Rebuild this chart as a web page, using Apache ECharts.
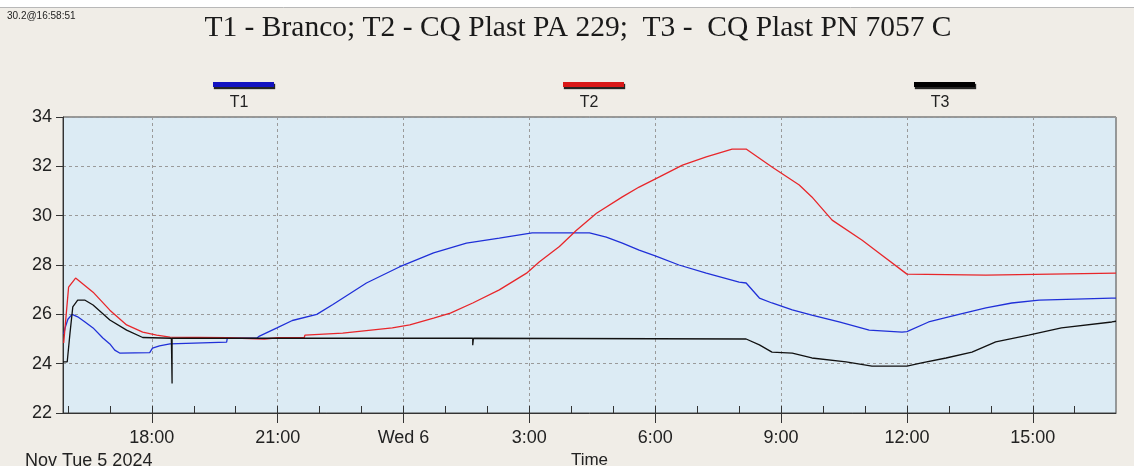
<!DOCTYPE html>
<html><head><meta charset="utf-8">
<script src="https://cdn.jsdelivr.net/npm/echarts@6/dist/echarts.min.js"></script>
<style>html,body{margin:0;padding:0;background:#f0ede7}#c{width:1134px;height:466px}</style>
</head><body><div id="c"></div>
<script>
// ---- data (times are Nov 5 / Nov 6 2024, temperature in °C) ----
const t1Time = ["11-05 15:54","11-05 15:56","11-05 16:00","11-05 16:06","11-05 16:14","11-05 16:24","11-05 16:36","11-05 16:50","11-05 17:00","11-05 17:07","11-05 17:14","11-05 17:57","11-05 18:01","11-05 18:11","11-05 18:26","11-05 19:47","11-05 19:48","11-05 20:30","11-05 20:34","11-05 20:59","11-05 21:21","11-05 21:56","11-05 22:19","11-05 23:07","11-05 23:54","11-06 00:43","11-06 01:30","11-06 02:17","11-06 03:04","11-06 04:26","11-06 04:50","11-06 05:13","11-06 05:37","11-06 06:01","11-06 06:34","11-06 07:13","11-06 08:00","11-06 08:10","11-06 08:29","11-06 08:47","11-06 09:16","11-06 09:44","11-06 10:23","11-06 11:06","11-06 11:53","11-06 12:00","11-06 12:31","11-06 13:10","11-06 13:53","11-06 14:30","11-06 15:09","11-06 16:53","11-06 16:59"];
const t1Temp = [25.2,25.45,25.8,26.0,25.9,25.7,25.45,25.04,24.8,24.55,24.43,24.45,24.63,24.72,24.8,24.87,25.03,25.03,25.12,25.45,25.75,26.0,26.4,27.27,27.92,28.49,28.89,29.09,29.3,29.3,29.13,28.89,28.6,28.36,28.0,27.67,27.31,27.27,26.66,26.46,26.18,25.97,25.69,25.36,25.28,25.3,25.69,25.97,26.26,26.46,26.58,26.66,26.66];

const t2Time = ["11-05 15:54","11-05 16:01","11-05 16:11","11-05 16:36","11-05 17:00","11-05 17:24","11-05 17:47","11-05 18:07","11-05 18:26","11-05 19:47","11-05 19:48","11-05 20:41","11-05 21:00","11-05 21:38","11-05 21:39","11-05 22:33","11-05 23:44","11-06 00:09","11-06 00:43","11-06 01:07","11-06 01:39","11-06 02:17","11-06 02:56","11-06 03:14","11-06 03:43","11-06 04:07","11-06 04:36","11-06 05:13","11-06 05:37","11-06 06:06","11-06 06:39","11-06 07:13","11-06 07:50","11-06 08:10","11-06 08:47","11-06 09:26","11-06 09:44","11-06 10:13","11-06 10:56","11-06 11:20","11-06 12:00","11-06 12:01","11-06 13:53","11-06 13:54","11-06 16:59"];
const t2Temp = [24.84,27.1,27.47,26.9,26.17,25.57,25.28,25.16,25.08,25.05,25.0,25.0,25.05,25.05,25.16,25.24,25.45,25.57,25.85,26.05,26.46,26.99,27.67,28.12,28.75,29.4,30.1,30.76,31.16,31.57,32.05,32.38,32.7,32.7,31.97,31.24,30.76,29.82,29.0,28.49,27.63,27.59,27.59,27.67,27.67];

const t3Time = ["11-05 15:53","11-05 15:59","11-05 16:03","11-05 16:07","11-05 16:14","11-05 16:24","11-05 16:36","11-05 17:00","11-05 17:24","11-05 17:47","11-05 18:28","11-05 18:29","11-05 18:29","11-06 01:39","11-06 01:39","11-06 01:40","11-06 08:10","11-06 08:29","11-06 08:47","11-06 09:16","11-06 09:44","11-06 10:33","11-06 11:10","11-06 12:00","11-06 12:21","11-06 12:56","11-06 13:33","11-06 14:07","11-06 14:54","11-06 15:41","11-06 16:53","11-06 16:59"];
const t3Temp = [24.07,24.07,25.24,26.3,26.58,26.58,26.38,25.77,25.36,25.06,25.03,23.2,25.03,25.03,24.75,25.03,25.0,24.76,24.47,24.43,24.23,24.07,23.9,23.9,24.03,24.23,24.47,24.88,25.16,25.45,25.69,25.72];

const seriesNames = ["T1","T2","T3"];
const xMajorHours = [18,21,24,27,30,33,36,39];
const xMinorHours = [16,17,18,19,20,21,22,23,24,25,26,27,28,29,30,31,32,33,34,35,36,37,38,39,40];
const xStart = "11-05 15:53";
const xEnd = "11-06 16:59";

function toHours(s){
  const m = s.match(/(\d+)-(\d+) (\d+):(\d+)/);
  return (parseInt(m[2],10)-5)*24 + parseInt(m[3],10) + parseInt(m[4],10)/60;
}
function pairs(times, vals){ return times.map((t,i)=>[toHours(t), vals[i]]); }
function hourLabel(v){ const h = Math.round(v); return h === 24 ? 'Wed 6' : (h % 24) + ':00'; }

const chart = echarts.init(document.getElementById('c'));
const xMin = toHours(xStart), xMax = toHours(xEnd);
const lineColors = ['#2030d8','#e8262a','#111111'];
const legendColors = ['#1212c0','#d81818','#000000'];
const legendLeft = [208, 558, 909];
const font = 'Liberation Sans, Arial, sans-serif';

chart.setOption({
  backgroundColor: '#f0ede7',
  animation: false,
  title: {
    text: 'T1 - Branco; T2 - CQ Plast PA 229;  T3 -  CQ Plast PN 7057 C',
    left: 573, top: 8, textAlign: 'center',
    textStyle: { fontFamily: 'Liberation Serif, Times New Roman, serif', fontWeight: 'normal', fontSize: 29.5, color: '#1a1a1a' }
  },
  legend: seriesNames.map((n,i)=>({
    data: [n], left: legendLeft[i], top: 77, icon: 'rect', itemWidth: 61, itemHeight: 5,
    selectedMode: false, formatter: () => '',
    itemStyle: { color: legendColors[i], shadowColor: 'rgba(0,0,0,0.85)', shadowOffsetX: 1, shadowOffsetY: 2, shadowBlur: 1 }
  })),
  graphic: [
    { type: 'rect', shape: { x: 0, y: 0, width: 1134, height: 7 }, style: { fill: '#ffffff' }, silent: true },
    { type: 'line', shape: { x1: 0, y1: 7.5, x2: 1134, y2: 7.5 }, style: { stroke: '#b8b8b8', lineWidth: 1 }, silent: true },
    { type: 'text', left: 7, top: 11, style: { text: '30.2@16:58:51', font: '10px Liberation Sans Narrow, Arial Narrow, Liberation Sans, sans-serif', fill: '#222' } },
    ...seriesNames.map((n,i)=>({ type: 'text', x: legendLeft[i] + 31, y: 103, style: { text: n, fill: '#222', font: '16px ' + font, align: 'center', verticalAlign: 'middle' } })),
    { type: 'text', left: 25, top: 452, style: { text: 'Nov Tue 5 2024', fill: '#222', font: '18px ' + font } }
  ],
  grid: { left: 63, right: 18, top: 117, bottom: 53, outerBoundsMode: 'none', containLabel: false, show: true, backgroundColor: '#dcebf4', borderColor: '#444', borderWidth: 1 },
  xAxis: [
    {
      type: 'value', min: xMin, max: xMax, position: 'bottom',
      name: 'Time', nameLocation: 'middle', nameGap: 37,
      nameTextStyle: { fontFamily: font, fontSize: 17, color: '#222' },
      axisLine: { show: true, lineStyle: { color: '#333', width: 1 } },
      axisTick: { show: true, inside: false, length: 10, customValues: xMajorHours, lineStyle: { color: '#333' } },
      axisLabel: { show: true, customValues: xMajorHours, formatter: hourLabel, margin: 16, fontFamily: font, fontSize: 18, color: '#222' },
      splitLine: { show: true, customValues: xMajorHours, lineStyle: { color: '#9a9a9a', type: [3,3], width: 1 } }
    },
    {
      type: 'value', min: xMin, max: xMax, position: 'bottom',
      axisLine: { show: false },
      axisTick: { show: true, inside: true, length: 7, customValues: xMinorHours, lineStyle: { color: '#333' } },
      axisLabel: { show: false },
      splitLine: { show: false }
    }
  ],
  yAxis: {
    type: 'value', min: 22, max: 34, interval: 2,
    axisLine: { show: true, lineStyle: { color: '#333' } },
    axisTick: { show: true, length: 7, lineStyle: { color: '#333' } },
    axisLabel: { margin: 11, fontFamily: font, fontSize: 18, color: '#222' },
    splitLine: { show: true, lineStyle: { color: '#9a9a9a', type: [3,3], width: 1 } }
  },
  series: [
    { name: 'T1', type: 'line', xAxisIndex: 0, showSymbol: false, data: pairs(t1Time, t1Temp), lineStyle: { color: lineColors[0], width: 1.3 }, itemStyle: { color: lineColors[0] } },
    { name: 'T2', type: 'line', xAxisIndex: 0, showSymbol: false, data: pairs(t2Time, t2Temp), lineStyle: { color: lineColors[1], width: 1.3 }, itemStyle: { color: lineColors[1] } },
    { name: 'T3', type: 'line', xAxisIndex: 0, showSymbol: false, data: pairs(t3Time, t3Temp), lineStyle: { color: lineColors[2], width: 1.3 }, itemStyle: { color: lineColors[2] } }
  ]
});
</script></body></html>
